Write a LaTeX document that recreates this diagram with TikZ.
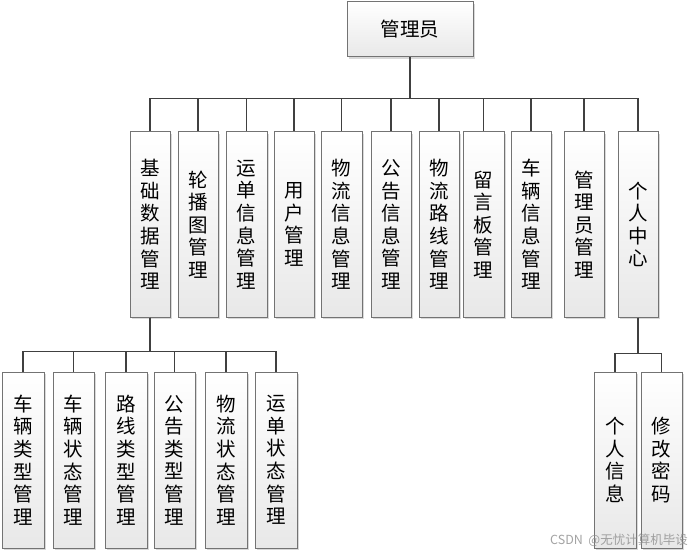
\documentclass[tikz,border=0pt]{standalone}
\usepackage{fontspec}
\setmainfont{Noto Sans CJK SC}
\usepackage{tikz}
\usetikzlibrary{positioning, shadows}

\begin{document}
\begin{tikzpicture}[x=1pt, y=-1pt,
    box/.style={rectangle, draw=black!55, line width=1pt, top color=white, bottom color=black!9,
          drop shadow={shadow xshift=2pt, shadow yshift=-2pt, fill=black!25, opacity=0.6},
          inner sep=0pt, align=center, font=\fontsize{19.5}{22.6}\selectfont},
    link/.style={draw=black!75, line width=1.4pt}]

    \useasboundingbox (0,0) rectangle (693,553);

    % Root
    \node[box, minimum width=126pt, minimum height=55pt] (admin) at (410,29.5) {管理员};

    % First level
    \node[box, minimum width=40pt, minimum height=185pt] (base) at (150,224.5) {基\\础\\数\\据\\管\\理};
    \node[box, minimum width=40pt, minimum height=185pt] (banner) at (198,224.5) {轮\\播\\图\\管\\理};
    \node[box, minimum width=41pt, minimum height=185pt] (waybill) at (246.5,224.5) {运\\单\\信\\息\\管\\理};
    \node[box, minimum width=40pt, minimum height=185pt] (user) at (294,224.5) {用\\户\\管\\理};
    \node[box, minimum width=41pt, minimum height=185pt] (loginfo) at (341.5,224.5) {物\\流\\信\\息\\管\\理};
    \node[box, minimum width=40pt, minimum height=185pt] (notice) at (391,224.5) {公\\告\\信\\息\\管\\理};
    \node[box, minimum width=40pt, minimum height=185pt] (route) at (439,224.5) {物\\流\\路\\线\\管\\理};
    \node[box, minimum width=41pt, minimum height=185pt] (board) at (483.5,224.5) {留\\言\\板\\管\\理};
    \node[box, minimum width=40pt, minimum height=185pt] (vehicle) at (531,224.5) {车\\辆\\信\\息\\管\\理};
    \node[box, minimum width=40pt, minimum height=185pt] (adminmgr) at (584,224.5) {管\\理\\员\\管\\理};
    \node[box, minimum width=40pt, minimum height=185pt] (center) at (638,224.5) {个\\人\\中\\心};

    % Root to first level
    \draw[link] (admin.south) -- ++(0,41) -| (base.north);
    \draw[link] (admin.south) -- ++(0,41) -| (banner.north);
    \draw[link] (admin.south) -- ++(0,41) -| (waybill.north);
    \draw[link] (admin.south) -- ++(0,41) -| (user.north);
    \draw[link] (admin.south) -- ++(0,41) -| (loginfo.north);
    \draw[link] (admin.south) -- ++(0,41) -| (notice.north);
    \draw[link] (admin.south) -- ++(0,41) -| (route.north);
    \draw[link] (admin.south) -- ++(0,41) -| (board.north);
    \draw[link] (admin.south) -- ++(0,41) -| (vehicle.north);
    \draw[link] (admin.south) -- ++(0,41) -| (adminmgr.north);
    \draw[link] (admin.south) -- ++(0,41) -| (center.north);

    % Base data children
    \node[box, minimum width=42pt, minimum height=176pt] (vtype) at (23,460) {车\\辆\\类\\型\\管\\理};
    \node[box, minimum width=41pt, minimum height=176pt] (vstate) at (73.5,460) {车\\辆\\状\\态\\管\\理};
    \node[box, minimum width=42pt, minimum height=176pt] (rtype) at (126,460) {路\\线\\类\\型\\管\\理};
    \node[box, minimum width=41pt, minimum height=176pt] (ntype) at (174.5,460) {公\\告\\类\\型\\管\\理};
    \node[box, minimum width=42pt, minimum height=176pt] (lstate) at (226,460) {物\\流\\状\\态\\管\\理};
    \node[box, minimum width=42pt, minimum height=176pt] (wstate) at (276,460) {运\\单\\状\\态\\管\\理};

    \draw[link] (base.south) -- ++(0,34) -| (vtype.north);
    \draw[link] (base.south) -- ++(0,34) -| (vstate.north);
    \draw[link] (base.south) -- ++(0,34) -| (rtype.north);
    \draw[link] (base.south) -- ++(0,34) -| (ntype.north);
    \draw[link] (base.south) -- ++(0,34) -| (lstate.north);
    \draw[link] (base.south) -- ++(0,34) -| (wstate.north);

    % Personal center children
    \node[box, minimum width=42pt, minimum height=176pt] (info) at (615,460) {个\\人\\信\\息};
    \node[box, minimum width=41pt, minimum height=176pt] (pwd) at (661.5,460) {修\\改\\密\\码};

    \draw[link] (center.south) -- ++(0,36) -| (info.north);
    \draw[link] (center.south) -- ++(0,36) -| (pwd.north);

    % Watermark
    \node[anchor=east, font=\fontsize{12.5}{14}\selectfont, black!45, opacity=0.8, inner sep=0pt] (wm) at (688,540) {CSDN\ \ @无忧计算机毕设};

\end{tikzpicture}
\end{document}
